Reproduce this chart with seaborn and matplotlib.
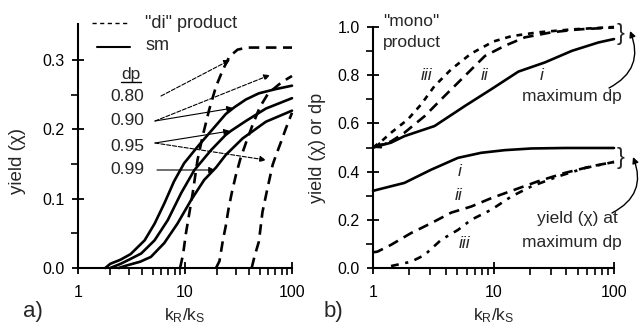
import matplotlib
matplotlib.use("Agg")
import matplotlib.pyplot as plt
import seaborn as sns
from matplotlib.lines import Line2D
from matplotlib.ticker import FixedLocator, LogLocator, NullFormatter

# ---- panel a): "di" product (dashed) and sm (solid) yield vs kR/kS ----
dp_labels = ["0.80", "0.90", "0.95", "0.99"]

di_080_x = [9.0, 9.6, 10.2, 11.0, 11.8, 13.1, 14.6, 16.8, 19.5, 22.6, 26, 31, 38, 50, 100]
di_080_y = [0.0, 0.02, 0.05, 0.08, 0.108, 0.156, 0.19, 0.228, 0.262, 0.286, 0.305, 0.315, 0.318, 0.318, 0.318]
di_090_x = [19.5, 21, 22.6, 24, 25.5, 27.5, 30, 33, 37, 42, 50, 60, 80, 100]
di_090_y = [0.0, 0.01, 0.04, 0.06, 0.085, 0.11, 0.135, 0.158, 0.18, 0.203, 0.232, 0.252, 0.268, 0.277]
di_095_x = [42, 44.5, 49, 53, 59, 66, 71, 79, 88, 100]
di_095_y = [0.0, 0.016, 0.038, 0.081, 0.115, 0.149, 0.163, 0.182, 0.202, 0.224]

sm_090_x = [1.8, 2.0, 2.5, 3.1, 4.2, 5.2, 6.4, 7.9, 9.8, 13.1, 18.8, 24, 29, 37, 49, 70, 100]
sm_090_y = [0.0, 0.006, 0.012, 0.02, 0.04, 0.064, 0.093, 0.125, 0.151, 0.175, 0.203, 0.222, 0.232, 0.243, 0.252, 0.258, 0.263]
sm_095_x = [2.0, 2.5, 3.0, 3.9, 5.2, 6.9, 9.2, 12.2, 17.5, 24, 27, 37, 57, 100]
sm_095_y = [0.0, 0.006, 0.012, 0.021, 0.04, 0.069, 0.108, 0.141, 0.170, 0.192, 0.198, 0.212, 0.230, 0.245]
sm_099_x = [2.4, 2.9, 3.8, 4.8, 6.4, 8.5, 11.4, 15.1, 19.5, 24, 34.6, 57, 100]
sm_099_y = [0.0, 0.004, 0.009, 0.016, 0.036, 0.064, 0.098, 0.127, 0.145, 0.163, 0.187, 0.211, 0.227]

# ---- panel b): "mono" product, maximum dp (top) and yield at maximum dp (bottom) ----
top_i_x = [1, 1.41, 1.82, 3.24, 5.78, 9.6, 16.1, 26.7, 44.7, 74.5, 100]
top_i_y = [0.5, 0.52, 0.547, 0.589, 0.672, 0.742, 0.815, 0.853, 0.901, 0.936, 0.95]
top_ii_x = [1, 1.41, 1.82, 2.68, 3.93, 5.78, 8.5, 12.4, 18.2, 30.3, 50.5, 100]
top_ii_y = [0.5, 0.525, 0.561, 0.63, 0.714, 0.797, 0.88, 0.922, 0.957, 0.978, 0.99, 0.998]
top_iii_x = [1, 1.2, 1.41, 1.95, 2.51, 3.24, 4.47, 6.53, 10, 14.1, 23.5, 44.7, 100]
top_iii_y = [0.5, 0.53, 0.561, 0.617, 0.679, 0.755, 0.825, 0.89, 0.94, 0.962, 0.978, 0.99, 1.0]

bot_i_x = [1, 1.09, 1.82, 3.04, 5.07, 7.9, 12.4, 20.7, 40, 100]
bot_i_y = [0.32, 0.325, 0.353, 0.408, 0.457, 0.478, 0.489, 0.496, 0.498, 0.498]
bot_ii_x = [1, 1.09, 1.41, 2.07, 3.04, 4.47, 6.53, 9.6, 15, 23.5, 39.4, 65, 100]
bot_ii_y = [0.065, 0.068, 0.096, 0.145, 0.186, 0.23, 0.255, 0.29, 0.325, 0.36, 0.395, 0.422, 0.44]
bot_iii_x = [1.41, 2.07, 2.68, 3.68, 5.07, 6.53, 9.6, 14.1, 20.7, 34.4, 57.5, 100]
bot_iii_y = [0.008, 0.026, 0.054, 0.117, 0.158, 0.2, 0.242, 0.297, 0.339, 0.38, 0.415, 0.44]

W, H = 644, 327

sns.set_theme(style="ticks")
plt.rcParams["font.family"] = ["Liberation Sans", "DejaVu Sans"]
plt.rcParams["axes.linewidth"] = 1.5
plt.rcParams["axes.edgecolor"] = "black"
plt.rcParams["axes.unicode_minus"] = False


def P(x, y):
    # reference pixel (top-left origin) -> figure fraction
    return (x / W, 1 - y / H)


LONG = (0, (4, 2.5))
SHORT = (0, (2.2, 2.2))
DASHDOT = (0, (3, 2.5, 1.2, 2.5))
LW = 1.9
FS = 12.5

fig = plt.figure(figsize=(W / 100, H / 100), dpi=100)
axa = fig.add_axes([78 / W, 1 - 268 / H, 214 / W, 244 / H])
axb = fig.add_axes([373 / W, 1 - 268 / H, 241 / W, 241 / H])

for ax in (axa, axb):
    ax.set_xscale("log")
    ax.set_xlim(1, 100)
    sns.despine(ax=ax)
    ax.xaxis.set_minor_locator(LogLocator(base=10, subs=range(2, 10)))
    ax.xaxis.set_minor_formatter(NullFormatter())
    ax.set_xticks([1, 10, 100])
    ax.set_xticklabels(["1", "10", "100"])
    ax.tick_params(which="major", direction="inout", length=9, width=1.3, labelsize=11.5, colors="black")
    ax.tick_params(axis="x", which="major", pad=8)
    ax.tick_params(axis="y", which="major", pad=5)
    ax.tick_params(which="minor", direction="out", length=5, width=1.2, colors="black")
    ax.set_facecolor("white")

# panel a curves
for xs, ys in [(di_080_x, di_080_y), (di_090_x, di_090_y), (di_095_x, di_095_y)]:
    sns.lineplot(x=xs, y=ys, ax=axa, color="black", lw=LW, linestyle=LONG, sort=False, clip_on=False)
for xs, ys in [(sm_090_x, sm_090_y), (sm_095_x, sm_095_y), (sm_099_x, sm_099_y)]:
    sns.lineplot(x=xs, y=ys, ax=axa, color="black", lw=LW, sort=False, clip_on=False)

axa.set_ylim(0, 0.352)
axa.set_yticks([0.0, 0.1, 0.2, 0.3])
axa.set_yticklabels(["0.0", "0.1", "0.2", "0.3"])
axa.yaxis.set_minor_locator(FixedLocator([0.05, 0.15, 0.25]))
axa.set_ylabel("yield (χ)", fontsize=13.5, labelpad=6)
axa.yaxis.set_label_coords(-0.245, 0.44)
axa.set_xlabel("$\\mathregular{k_R/k_S}$", fontsize=FS, labelpad=4)

# panel b curves
sns.lineplot(x=top_i_x, y=top_i_y, ax=axb, color="black", lw=LW, sort=False, clip_on=False)
sns.lineplot(x=top_ii_x, y=top_ii_y, ax=axb, color="black", lw=LW, linestyle=LONG, sort=False, clip_on=False)
sns.lineplot(x=top_iii_x, y=top_iii_y, ax=axb, color="black", lw=LW, linestyle=SHORT, sort=False, clip_on=False)
sns.lineplot(x=bot_i_x, y=bot_i_y, ax=axb, color="black", lw=LW, sort=False, clip_on=False)
sns.lineplot(x=bot_ii_x, y=bot_ii_y, ax=axb, color="black", lw=LW, linestyle=LONG, sort=False, clip_on=False)
sns.lineplot(x=bot_iii_x, y=bot_iii_y, ax=axb, color="black", lw=LW, linestyle=DASHDOT, sort=False, clip_on=False)

axb.set_ylim(0, 1.0)
axb.set_yticks([0.0, 0.2, 0.4, 0.6, 0.8, 1.0])
axb.set_yticklabels(["0.0", "0.2", "0.4", "0.6", "0.8", "1.0"])
axb.yaxis.set_minor_locator(FixedLocator([0.1, 0.3, 0.5, 0.7, 0.9]))
axb.set_ylabel("yield (χ) or dp", fontsize=13, labelpad=8)
axb.set_xlabel("$\\mathregular{k_R/k_S}$", fontsize=FS, labelpad=4)

# ---- annotations, panel a ----
fig.add_artist(Line2D([92 / W, 128 / W], [1 - 23 / H] * 2, color="black", lw=1, linestyle=(0, (3, 2.5))))
fig.add_artist(Line2D([97 / W, 130 / W], [1 - 47 / H] * 2, color="black", lw=1.5))
fig.text(*P(145, 23), '"di" product', fontsize=FS + 0.5, va="center")
fig.text(*P(145, 46), "sm", fontsize=FS + 0.5, va="center")
fig.text(*P(131, 79), "dp", fontsize=FS, ha="center", va="baseline")
fig.add_artist(Line2D([121 / W, 141 / W], [1 - 82 / H] * 2, color="black", lw=1))
for lab, yy in zip(dp_labels, [97, 121, 146, 170]):
    fig.text(*P(127, yy), lab, fontsize=FS, ha="center", va="center")

arrows_a = [
    ((161, 96), (230, 60), "--"),
    ((155, 121), (270, 75), "--"),
    ((155, 121), (233, 108), "-"),
    ((155, 143), (230, 131), "-"),
    ((155, 143), (266, 160), "--"),
    ((157, 170), (215, 170), "-"),
]
for start, tip, ls in arrows_a:
    axa.annotate("", xy=P(*tip), xytext=P(*start), xycoords="figure fraction",
                 arrowprops=dict(arrowstyle="-|>", lw=0.8, ls=ls, color="black",
                                 mutation_scale=9, shrinkA=0, shrinkB=0))

fig.text(*P(33, 312), "a)", fontsize=16, ha="center", va="center")
fig.text(*P(333, 312), "b)", fontsize=16, ha="center", va="center")

# ---- annotations, panel b ----
fig.text(*P(411, 22), '"mono"', fontsize=FS, ha="center", va="center")
fig.text(*P(412, 43), "product", fontsize=FS, ha="center", va="center")
for lab, x, y in [("iii", 427, 76), ("ii", 485, 76), ("i", 542, 76),
                  ("i", 460, 172), ("ii", 459, 195), ("iii", 465, 243)]:
    fig.text(*P(x, y), lab, fontsize=FS, style="italic", ha="center", va="center")
fig.text(*P(572, 97), "maximum dp", fontsize=FS, ha="center", va="center")
fig.text(*P(577, 219), "yield (χ) at", fontsize=FS, ha="center", va="center")
fig.text(*P(572, 242), "maximum dp", fontsize=FS, ha="center", va="center")
fig.text(*P(621, 34), "}", fontsize=17, ha="center", va="center")
fig.text(*P(621, 158), "}", fontsize=17, ha="center", va="center")
axb.annotate("", xy=P(374, 148), xytext=P(386, 143), xycoords="figure fraction",
             arrowprops=dict(arrowstyle="-|>", lw=1.2, color="black", mutation_scale=9,
                             shrinkA=0, shrinkB=0))
for start, tip in [((609, 88), (630, 31)), ((612, 213), (633, 157))]:
    axb.annotate("", xy=P(*tip), xytext=P(*start), xycoords="figure fraction",
                 arrowprops=dict(arrowstyle="-|>", lw=1, color="black", mutation_scale=9,
                                 connectionstyle="arc3,rad=0.45", shrinkA=0, shrinkB=0))

fig.savefig("out.png", dpi=100, facecolor="white")
